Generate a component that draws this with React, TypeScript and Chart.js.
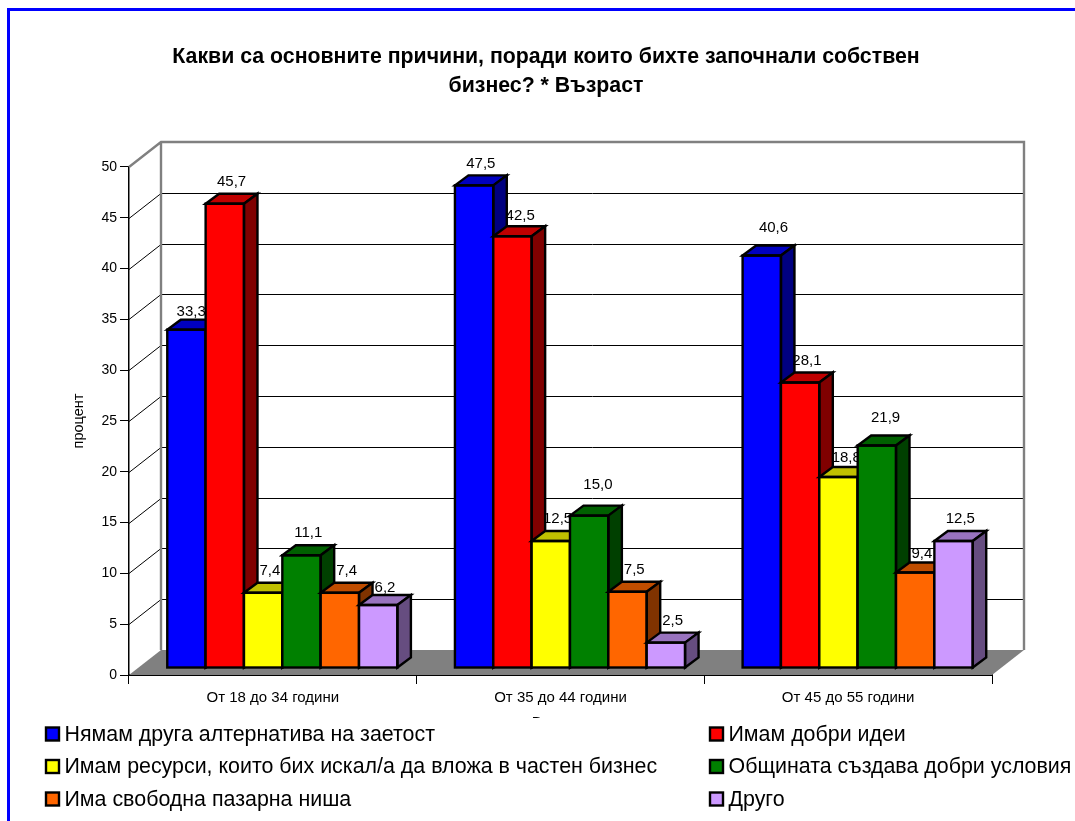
import React, { useEffect, useRef } from "react";
import { Chart, registerables } from "chart.js";

Chart.register(...registerables);

const categories = ["От 18 до 34 години", "От 35 до 44 години", "От 45 до 55 години"];
const seriesNames = [
  "Нямам друга алтернатива на заетост",
  "Имам добри идеи",
  "Имам ресурси, които бих искал/а да вложа в частен бизнес",
  "Общината създава добри условия",
  "Има свободна пазарна ниша",
  "Друго",
];
const noAlternative = [33.3, 47.5, 40.6];
const goodIdeas = [45.7, 42.5, 28.1];
const resources = [7.4, 12.5, 18.8];
const municipality = [11.1, 15.0, 21.9];
const marketNiche = [7.4, 7.5, 9.4];
const other = [6.2, 2.5, 12.5];
const seriesValues = [noAlternative, goodIdeas, resources, municipality, marketNiche, other];
const frontColors = ["#0000FF", "#FF0000", "#FFFF00", "#008000", "#FF6600", "#CC99FF"];
const topColors = ["#0000C0", "#C00000", "#C0C000", "#006000", "#C04D00", "#9973BF"];
const sideColors = ["#000080", "#800000", "#808000", "#004000", "#803300", "#664D80"];
const titleLines = ["Какви са основните причини, поради които бихте започнали собствен", "бизнес? * Възраст"];
const FONT = "'Liberation Sans', Arial, sans-serif";

const WALL_DX = 32;
const WALL_DY = -25;
const BAR_DX = 9.5;
const BAR_DY = -7;
const DEPTH_DX = 13.5;
const DEPTH_DY = -10;
// label nudges (series:category -> dx, dy), as the original places some labels by hand
const labelNudges: Record<string, number[]> = {
  "0:0": [-2, 4],
  "0:2": [5, -6],
  "1:1": [1, 2],
  "2:2": [1, 3],
  "3:1": [2, -9],
  "3:2": [2, -6],
  "4:2": [0, 3],
  "5:0": [0, 5],
};

function poly(ctx: CanvasRenderingContext2D, pts: number[][], fill: string) {
  ctx.beginPath();
  pts.forEach(([x, y], i) => (i ? ctx.lineTo(x, y) : ctx.moveTo(x, y)));
  ctx.closePath();
  ctx.fillStyle = fill;
  ctx.fill();
  ctx.stroke();
}

function drawWalls(chart: any) {
  const { ctx, scales } = chart;
  const y = scales.y;
  const x0 = chart.chartArea.left;
  const x1 = chart.chartArea.right;
  const y0 = y.getPixelForValue(0);
  const yTop = y.getPixelForValue(50);
  ctx.save();
  ctx.fillStyle = "#808080";
  ctx.beginPath();
  ctx.moveTo(x0, y0);
  ctx.lineTo(x1, y0);
  ctx.lineTo(x1 + WALL_DX, y0 + WALL_DY);
  ctx.lineTo(x0 + WALL_DX, y0 + WALL_DY);
  ctx.closePath();
  ctx.fill();
  ctx.strokeStyle = "#000000";
  ctx.lineWidth = 1;
  y.ticks.forEach((t: any) => {
    const py = Math.round(y.getPixelForValue(t.value)) + 0.5;
    if (t.value === 0 || t.value === 50) return;
    ctx.beginPath();
    ctx.moveTo(x0, py);
    ctx.lineTo(x0 + WALL_DX, py + WALL_DY);
    ctx.lineTo(x1 + WALL_DX, py + WALL_DY);
    ctx.stroke();
  });
  ctx.strokeStyle = "#808080";
  ctx.lineWidth = 2.4;
  ctx.beginPath();
  ctx.moveTo(x0, yTop);
  ctx.lineTo(x0 + WALL_DX, yTop + WALL_DY);
  ctx.lineTo(x1 + WALL_DX, yTop + WALL_DY);
  ctx.lineTo(x1 + WALL_DX, y0 + WALL_DY);
  ctx.moveTo(x0 + WALL_DX, yTop + WALL_DY);
  ctx.lineTo(x0 + WALL_DX, y0 + WALL_DY);
  ctx.stroke();
  ctx.restore();
}

const box3d = {
  id: "box3d",
  afterLayout(chart: any) {
    chart.titleBlock.left += 15;
    chart.titleBlock.right += 15;
  },
  beforeDatasetsDraw(chart: any) {
    const { ctx } = chart;
    drawWalls(chart);
    // series are painted left to right, so each bar overlaps its left neighbour's side and label
    chart.getSortedVisibleDatasetMetas().forEach((meta: any) => {
      const i = meta.index;
      ctx.save();
      ctx.translate(BAR_DX, BAR_DY);
      meta.controller.draw();
      ctx.lineWidth = 2.4;
      ctx.strokeStyle = "#000000";
      ctx.lineJoin = "miter";
      meta.data.forEach((bar: any, k: number) => {
        const { x, y, base, width } = bar.getProps(["x", "y", "base", "width"], true);
        const l = x - width / 2;
        const r = x + width / 2;
        poly(ctx, [[l, y], [l + DEPTH_DX, y + DEPTH_DY], [r + DEPTH_DX, y + DEPTH_DY], [r, y]], topColors[i]);
        poly(ctx, [[r, y], [r + DEPTH_DX, y + DEPTH_DY], [r + DEPTH_DX, base + DEPTH_DY], [r, base]], sideColors[i]);
        ctx.strokeRect(l, y, width, base - y);
        const [ndx, ndy] = labelNudges[`${i}:${k}`] || [0, 0];
        ctx.fillStyle = "#000000";
        ctx.font = `15px ${FONT}`;
        ctx.textAlign = "center";
        ctx.textBaseline = "middle";
        ctx.fillText(seriesValues[i][k].toFixed(1).replace(".", ","), x + DEPTH_DX / 2 + ndx, y - 22 + ndy);
      });
      ctx.restore();
    });
    return false;
  },
  afterDraw(chart: any) {
    const { ctx } = chart;
    ctx.save();
    // the legend panel sits over the clipped axis title
    ctx.fillStyle = "#FFFFFF";
    ctx.fillRect(11, 718, 1064, 103);
    ctx.font = `21.4px ${FONT}`;
    ctx.textAlign = "left";
    ctx.textBaseline = "middle";
    const cols = [45, 709];
    const rows = [734, 766.5, 799];
    chart.data.datasets.forEach((d: any, i: number) => {
      const sx = cols[i % 2];
      const sy = rows[Math.floor(i / 2)];
      ctx.fillStyle = frontColors[i];
      ctx.fillRect(sx + 1, sy - 6.5, 13, 13);
      ctx.strokeStyle = "#000000";
      ctx.lineWidth = 2.4;
      ctx.strokeRect(sx + 1, sy - 6.5, 13, 13);
      ctx.fillStyle = "#000000";
      ctx.fillText(d.label, sx + 19.5, sy + 1);
    });
    ctx.restore();
  },
};

export default function App() {
  const ref = useRef<HTMLCanvasElement>(null);
  useEffect(() => {
    const chart = new Chart(ref.current!, {
      type: "bar",
      plugins: [box3d],
      data: {
        labels: categories,
        datasets: seriesNames.map((label, i) => ({
          label,
          data: seriesValues[i],
          backgroundColor: frontColors[i],
          borderWidth: 0,
          categoryPercentage: 0.8,
          barPercentage: 1,
          clip: false,
        })),
      },
      options: {
        responsive: false,
        animation: false,
        layout: { padding: { left: 70, right: 83, top: 20, bottom: 86 } },
        plugins: {
          legend: { display: false },
          tooltip: { enabled: false },
          title: {
            display: true,
            text: titleLines,
            color: "#000000",
            font: { family: FONT, size: 21.3, weight: "bold", lineHeight: 1.3615 },
            padding: { top: 22.5, bottom: 66.5 },
          },
        },
        scales: {
          x: {
            grid: { drawOnChartArea: false, tickLength: 9, tickColor: "#000000", lineWidth: 1 },
            border: { color: "#000000", width: 2 },
            ticks: { color: "#000000", font: { family: FONT, size: 15 }, padding: 5, maxRotation: 0 },
            title: { display: true, text: "Възраст", color: "#000000", font: { family: FONT, size: 15 }, padding: { top: 4, bottom: 3 } },
            afterFit: (s: any) => { s.height = 60; },
          },
          y: {
            min: 0,
            max: 50,
            ticks: { stepSize: 5, color: "#000000", font: { family: FONT, size: 14 }, padding: 3 },
            grid: { drawOnChartArea: false, tickLength: 9, tickColor: "#000000", lineWidth: 1 },
            border: { color: "#000000", width: 1.5 },
            title: { display: true, text: "процент", color: "#000000", font: { family: FONT, size: 14.5 }, padding: { top: 0, bottom: 0 } },
            afterFit: (s: any) => { s.width = 59; },
          },
        },
      },
    } as any);
    return () => chart.destroy();
  }, []);
  return (
    <div style={{ position: "absolute", left: 0, top: 0, width: 1075, height: 821, overflow: "hidden", background: "#FFFFFF" }}>
      <div style={{ position: "absolute", left: 7, top: 8, width: 1200, height: 1000, border: "3px solid #0000FF" }} />
      <canvas ref={ref} width={1075} height={821} style={{ position: "absolute", left: 0, top: 0 }} />
    </div>
  );
}
